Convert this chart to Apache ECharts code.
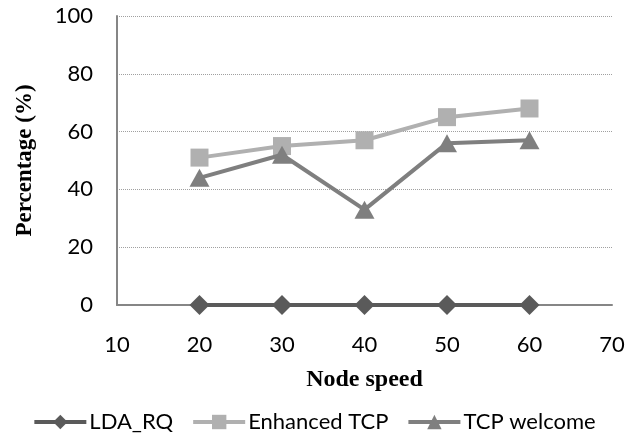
<!DOCTYPE html>
<html><head><meta charset="utf-8">
<script src="https://cdn.jsdelivr.net/npm/echarts@6/dist/echarts.min.js"></script>
<style>html,body{margin:0;padding:0;background:#fff}#c{width:628px;height:435px}</style>
</head><body><div id="c"></div>
<script>
const speeds = [20, 30, 40, 50, 60];
const ldaRq = [0, 0, 0, 0, 0];
const enhancedTcp = [51, 55, 57, 65, 68];
const tcpWelcome = [44, 52, 33, 56, 57];
const seriesNames = ['LDA_RQ', 'Enhanced TCP', 'TCP welcome'];

const pair = (xs, ys) => xs.map((x, i) => [x, ys[i]]);
const chart = echarts.init(document.getElementById('c'));
const lab = {fontFamily: 'Lato', fontSize: 22, color: '#000'};
const titleFont = {fontFamily: 'Liberation Serif', fontWeight: 'bold', fontSize: 24, color: '#000'};
chart.setOption({
  animation: false,
  grid: {left: 117, right: 16, top: 16, bottom: 130, outerBoundsMode: 'none', containLabel: false},
  xAxis: {
    type: 'value', min: 10, max: 70, interval: 10,
    name: 'Node speed', nameLocation: 'middle', nameGap: 63,
    nameTextStyle: titleFont,
    axisLine: {show: true, lineStyle: {color: '#868686', width: 2}},
    axisTick: {show: false}, splitLine: {show: false},
    axisLabel: Object.assign({margin: 29}, lab)
  },
  yAxis: {
    type: 'value', min: 0, max: 100, interval: 20,
    name: 'Percentage (%)', nameLocation: 'middle', nameGap: 80,
    nameTextStyle: Object.assign({}, titleFont, {fontSize: 23}),
    axisLine: {show: true, lineStyle: {color: '#868686', width: 2}},
    axisTick: {show: false},
    splitLine: {show: true, lineStyle: {color: '#a0a0a0', type: 'dotted', width: 1}},
    axisLabel: Object.assign({margin: 24}, lab)
  },
  legend: {
    bottom: -3, left: 'center', itemWidth: 52, itemHeight: 18, itemGap: 18,
    textStyle: {fontFamily: 'Lato', fontSize: 22, color: '#000', padding: [0, 0, 0, -2]},
    lineStyle: {width: 4},
    data: seriesNames
  },
  series: [
    {name: seriesNames[0], type: 'line', data: pair(speeds, ldaRq), symbol: 'diamond', symbolSize: 20,
     lineStyle: {color: '#5a5a5a', width: 4}, itemStyle: {color: '#5a5a5a'}, z: 3},
    {name: seriesNames[1], type: 'line', data: pair(speeds, enhancedTcp), symbol: 'rect', symbolSize: 18,
     lineStyle: {color: '#b0b0b0', width: 4}, itemStyle: {color: '#b0b0b0'}, z: 2},
    {name: seriesNames[2], type: 'line', data: pair(speeds, tcpWelcome), symbol: 'triangle', symbolSize: [20, 18],
     lineStyle: {color: '#7f7f7f', width: 4}, itemStyle: {color: '#7f7f7f'}, z: 4}
  ]
});
</script></body></html>
